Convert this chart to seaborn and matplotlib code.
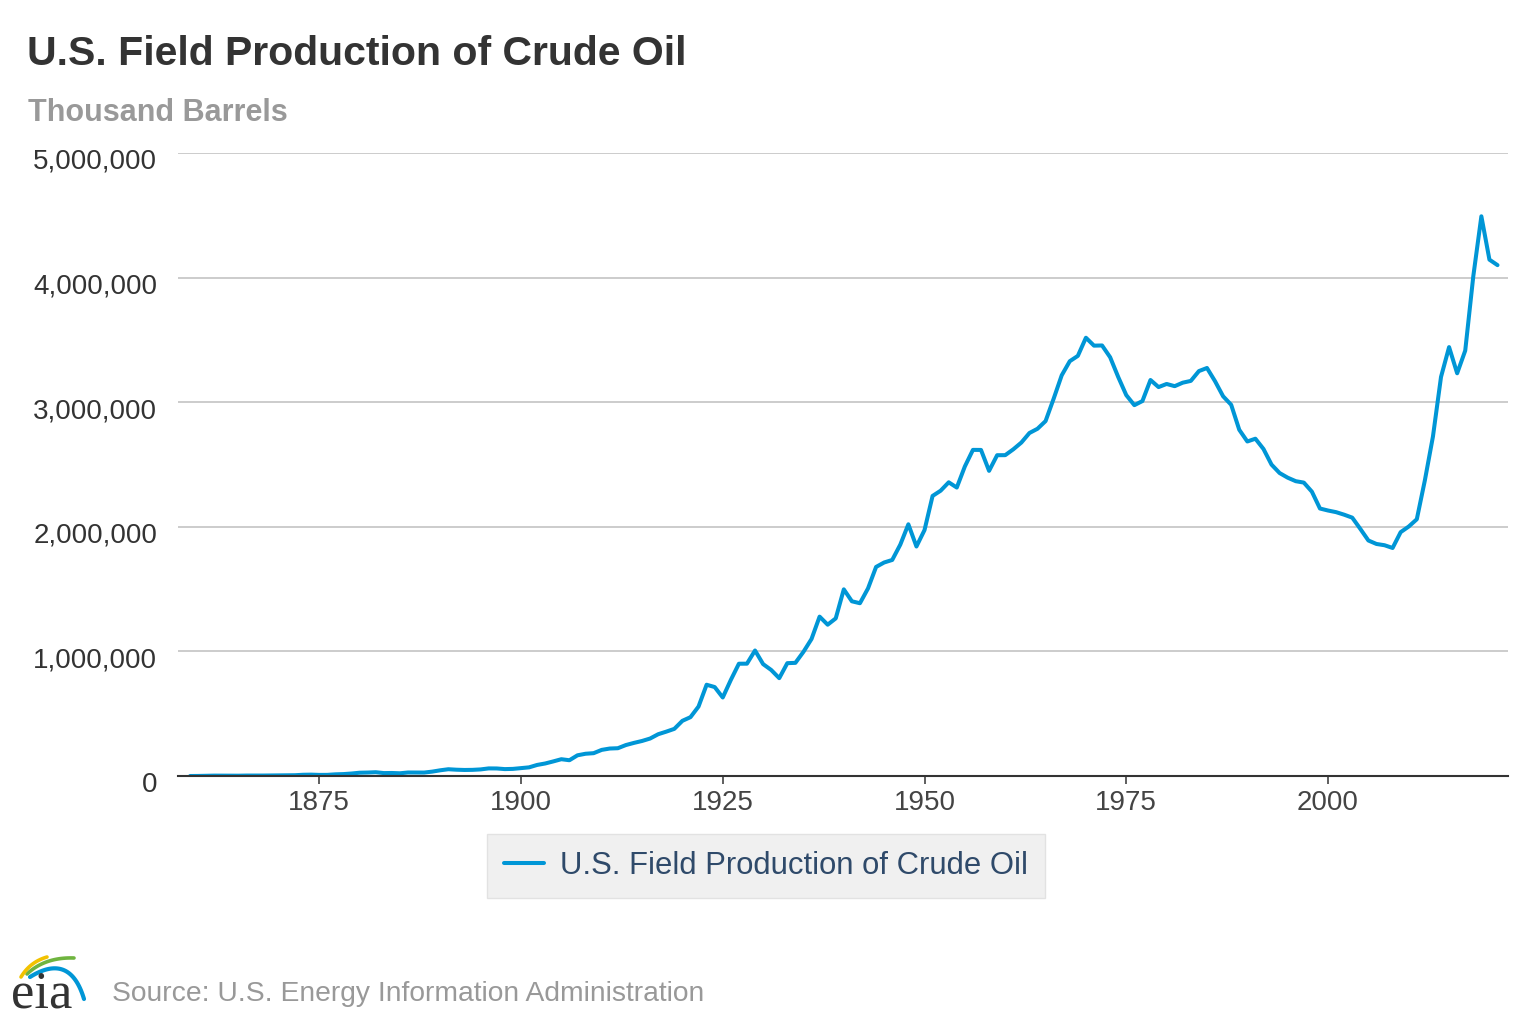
import numpy as np
import pandas as pd
import matplotlib
matplotlib.use("Agg")
import matplotlib.pyplot as plt
import matplotlib.transforms as mtransforms
import seaborn as sns

# thousand barrels per year
years = list(range(1859, 2022))
production = [
    2, 500, 2114, 3057, 2611, 2116, 2498, 3598, 3347, 3646,            # 1859-1868
    4215, 5261, 5205, 6293, 9894, 10927, 8788, 9133, 13350, 15397,     # 1869-1878
    19914, 26286, 27661, 30350, 23450, 24218, 21859, 28065, 28283, 27612,  # 1879-1888
    35164, 45824, 54293, 50515, 48431, 49344, 52892, 60960, 60476, 55364,  # 1889-1898
    57071, 63621, 69389, 88767, 100461, 117081, 134717, 126494, 166095, 178527,  # 1899-1908
    183171, 209557, 220449, 222935, 248446, 265763, 281104, 300767, 335316, 355928,  # 1909-1918
    378367, 442929, 472183, 557531, 732407, 713940, 630000, 770874, 901129, 901474,  # 1919-1928
    1007323, 898011, 851081, 785159, 905656, 908065, 996596, 1099687, 1279160, 1214355,  # 1929-1938
    1264962, 1498000, 1402228, 1386645, 1505613, 1677904, 1713655, 1733939, 1856987, 2020185,  # 1939-1948
    1841940, 1973574, 2247711, 2289836, 2357082, 2314988, 2484428, 2617283, 2616901, 2448987,  # 1949-1958
    2574590, 2574933, 2621758, 2676189, 2752723, 2786822, 2848514, 3027763, 3215742, 3329042,  # 1959-1968
    3371751, 3517450, 3453914, 3455368, 3360903, 3202585, 3056779, 2976180, 3009265, 3178216,  # 1969-1978
    3121310, 3146365, 3128624, 3156715, 3170999, 3249696, 3274553, 3168252, 3047378, 2979123,  # 1979-1988
    2778773, 2684687, 2707039, 2624632, 2499033, 2431476, 2394268, 2366017, 2354831, 2281919,  # 1989-1998
    2146732, 2130707, 2117511, 2097124, 2073453, 1983300, 1890106, 1862259, 1852085, 1830057,  # 1999-2008
    1957150, 2002115, 2060531, 2373227, 2724403, 3202773, 3442209, 3232025, 3414006, 4010910,  # 2009-2018
    4492000, 4143960, 4100000,                                         # 2019-2021
]

series_name = "U.S. Field Production of Crude Oil"
y_ticks = [0, 1000000, 2000000, 3000000, 4000000, 5000000]
x_ticks = [1875, 1900, 1925, 1950, 1975, 2000]

df = pd.DataFrame({"Year": years, "Production": production})

sns.set_style("white")
plt.rcParams["font.family"] = ["Liberation Sans", "DejaVu Sans"]

W, H = 1536, 1024
fig = plt.figure(figsize=(W / 100, H / 100), dpi=100)
ax = fig.add_axes([178 / W, 1 - 776 / H, (1508 - 178) / W, (776 - 153) / H])

sns.lineplot(data=df, x="Year", y="Production", color="#0096d6", linewidth=2.9,
             label=series_name, ax=ax)

ax.set_xlim(1857.5, 2022.3)
ax.set_ylim(0, 5000000)
ax.set_xticks(x_ticks)
ax.set_yticks(y_ticks)
ax.set_yticklabels(["{:,}".format(v) for v in y_ticks])
ax.set_xlabel("")
ax.set_ylabel("")

ax.grid(axis="y", color="#cccccc", linewidth=1.4)
ax.grid(axis="x", visible=False)
ax.set_axisbelow(True)
for s in ["top", "right", "left"]:
    ax.spines[s].set_visible(False)
ax.spines["bottom"].set_color("#333333")
ax.spines["bottom"].set_linewidth(1.5)
ax.spines["bottom"].set_zorder(5)

ax.tick_params(axis="x", length=6, width=1.1, color="#333333", labelsize=20,
               labelcolor="#444444", pad=4, direction="out", bottom=True)
ax.tick_params(axis="y", length=0, labelsize=20, labelcolor="#333333", pad=15)
offset = mtransforms.ScaledTranslation(0, -6 / 100, fig.dpi_scale_trans)
for lab in ax.get_yticklabels():
    lab.set_transform(lab.get_transform() + offset)

handles, labels = ax.get_legend_handles_labels()
ax.get_legend().remove()
leg = fig.legend(handles, labels, loc="center",
                 bbox_to_anchor=(766 / W, 1 - 866 / H), fontsize=22.3,
                 frameon=True, fancybox=False, framealpha=1,
                 facecolor="#f0f0f0", edgecolor="#e2e2e2",
                 handlelength=1.3, handletextpad=0.5, borderpad=0.55,
                 borderaxespad=0)
for t in leg.get_texts():
    t.set_color("#2f4a6a")

# titles
fig.text(27 / W, 1 - 65 / H, "U.S. Field Production of Crude Oil", fontsize=29.5,
         fontweight="bold", color="#333333", va="baseline", ha="left")
fig.text(28 / W, 1 - 121 / H, "Thousand Barrels", fontsize=22,
         fontweight="bold", color="#999999", va="baseline", ha="left")
fig.text(112 / W, 1 - 1001 / H, "Source: U.S. Energy Information Administration",
         fontsize=20.3, color="#999999", va="baseline", ha="left")

# eia logo
lax = fig.add_axes([0, 0, 100 / W, 90 / H])
lax.set_xlim(0, 100)
lax.set_ylim(1024, 934)
lax.axis("off")


def bez(p0, p1, p2):
    t = np.linspace(0, 1, 40)[:, None]
    pts = (1 - t) ** 2 * np.array(p0) + 2 * (1 - t) * t * np.array(p1) + t ** 2 * np.array(p2)
    return pts[:, 0], pts[:, 1]


bx, by = bez((30, 977), (70, 952), (84, 999))
lax.plot(bx, by, color="#0096d6", linewidth=3.0, solid_capstyle="round")
gx, gy = bez((27, 974), (45, 957), (74, 958))
lax.plot(gx, gy, color="#6fb43f", linewidth=2.6, solid_capstyle="round")
yx, yy = bez((21, 977), (30, 962), (47, 957))
lax.plot(yx, yy, color="#f2c200", linewidth=2.6, solid_capstyle="round")
lax.text(11, 1007, "eia", fontsize=38, family="Liberation Serif",
         color="#333333", va="baseline", ha="left")

fig.savefig("out.png", dpi=100)
